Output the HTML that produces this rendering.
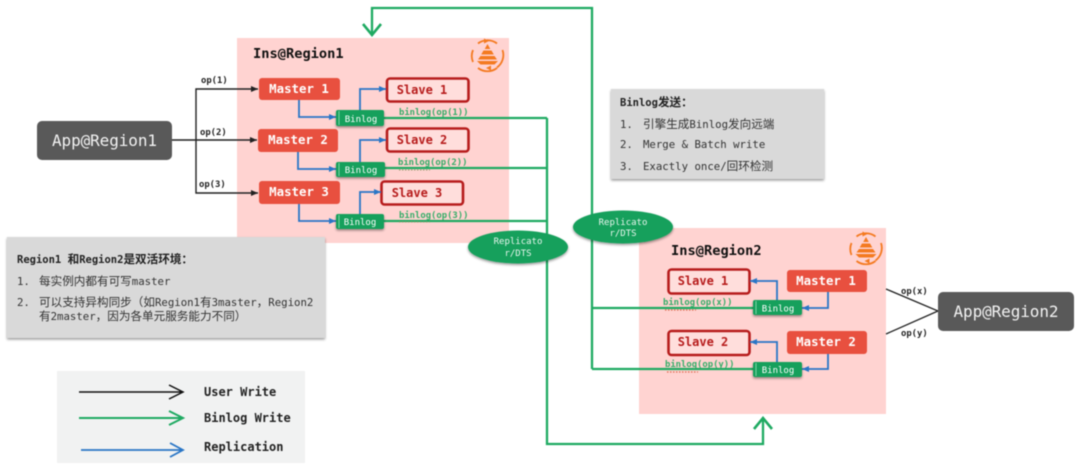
<!DOCTYPE html>
<html><head><meta charset="utf-8">
<style>
html,body{margin:0;padding:0;background:#fff;width:1080px;height:471px;overflow:hidden}
svg{display:block;filter:blur(.5px)}
text{font-family:"DejaVu Sans Mono","Liberation Mono","Noto Sans CJK SC",monospace}
.m{font-size:12.4px;font-weight:bold;fill:#fff;text-anchor:middle}
.s{font-size:12px;font-weight:bold;fill:#b71c1c;text-anchor:middle}
.b{font-size:9px;fill:#fff;text-anchor:middle}
.bl{font-size:8.9px;font-weight:bold;fill:#35ad68}
.op{font-size:8.9px;font-weight:bold;fill:#222}
.t{font-size:13.7px;font-weight:bold;fill:#111}
.g{font-size:10.7px;fill:#333}
.gb{font-size:10.5px;fill:#222;font-weight:bold}
.c{font-size:11.6px}
.lg{font-size:12px;font-weight:bold;fill:#222}
.r{font-size:9px;fill:#e8f6ee;text-anchor:middle}
.k{fill:none;stroke:#222;stroke-width:1.4}
.bu{fill:none;stroke:#2a76c6;stroke-width:1.8}
.gr{fill:none;stroke:#1faa62;stroke-width:2.3}
.sl{fill:#ffdedc;stroke:#b71c1c;stroke-width:2.6}
</style></head><body>
<svg width="1080" height="471" viewBox="0 0 1080 471" xmlns="http://www.w3.org/2000/svg">
<defs>
<marker id="ak" markerUnits="userSpaceOnUse" markerWidth="8" markerHeight="8" refX="7" refY="4" orient="auto"><path d="M0 1L7 4L0 7z" fill="#222"/></marker>
<marker id="ab" markerUnits="userSpaceOnUse" markerWidth="8" markerHeight="8" refX="7" refY="4" orient="auto"><path d="M0 1L7 4L0 7z" fill="#2a76c6"/></marker>
<filter id="sh" x="-5%" y="-5%" width="110%" height="120%"><feDropShadow dx="0" dy="1.500" stdDeviation="1.200" flood-color="#000" flood-opacity=".4"/></filter>
</defs>

<!-- Regions -->
<rect x="237" y="38" width="272" height="205" fill="#ffd3d1"/>
<rect x="639" y="228" width="247" height="186" fill="#ffd3d1"/>

<!-- Green lines -->
<path class="gr" d="M384 118H547M385 168H547M384 221H547M547 118V444H763V418"/>
<path class="gr" d="M753 308H592M753 369H592M592 369V8H372V35"/>
<path class="gr" style="stroke-width:2.6" d="M363 24L372 35L381 24"/>
<path class="gr" style="stroke-width:2.6" d="M754 429L763 418L772 429"/>

<!-- App 1 -->
<rect x="37" y="121" width="135" height="39" rx="5" fill="#595959"/>
<text x="104.500" y="146" font-size="16" fill="#f2f2f2" text-anchor="middle" textLength="105">App@Region1</text>

<!-- User write arrows -->
<path class="k" marker-end="url(#ak)" d="M172 140H196V89H258"/>
<path class="k" marker-end="url(#ak)" d="M196 140H257"/>
<path class="k" marker-end="url(#ak)" d="M196 140V193H258"/>
<text class="op" x="201" y="83">op(1)</text>
<text class="op" x="200" y="135">op(2)</text>
<text class="op" x="199" y="187">op(3)</text>

<!-- Region 1 -->
<text class="t" x="253" y="58">Ins@Region1</text>
<g id="icon1">
<path d="M478 43.500A15.500 15.500 0 0 1 497 43.500M502.500 50A15.500 15.500 0 0 1 497 67.500M497 68A15.500 15.500 0 0 1 478 68M473 62A15.500 15.500 0 0 1 473 50" fill="none" stroke="#f47a20" stroke-width="1.800"/>
<path d="M487.500 44l2.800 5h-5.600zM483.500 50.500h8l2.300 4h-12.600zM480.500 56h14l2.500 3.500h-19zM477 61h21l-3.500 3.500h-14z" fill="#f47a20"/>
<path d="M484 38.500l5 2.500-5 2.500zM491 65.500l-5 2.500 5 2.500z" fill="#f47a20"/>
</g>

<rect x="259" y="78" width="81" height="22" rx="3" fill="#e8503f"/>
<text class="m" x="299" y="93">Master 1</text>
<rect x="258" y="129" width="80" height="23" rx="3" fill="#e8503f"/>
<text class="m" x="298" y="144">Master 2</text>
<rect x="259" y="181" width="81" height="23" rx="3" fill="#e8503f"/>
<text class="m" x="299" y="196">Master 3</text>

<rect class="sl" x="387" y="78.500" width="81.500" height="23" rx="3"/>
<text class="s" x="422" y="94">Slave 1</text>
<rect class="sl" x="387" y="128.500" width="81.500" height="23" rx="3"/>
<text class="s" x="422" y="144">Slave 2</text>
<rect class="sl" x="381.500" y="181.500" width="81.500" height="23" rx="3"/>
<text class="s" x="417" y="197">Slave 3</text>

<!-- Replication region 1 -->
<path class="bu" marker-end="url(#ab)" d="M299 100V117H336"/>
<path class="bu" marker-end="url(#ab)" d="M360 110V89H386"/>
<path class="bu" marker-end="url(#ab)" d="M298 152V169H336"/>
<path class="bu" marker-end="url(#ab)" d="M360 162V140H386"/>
<path class="bu" marker-end="url(#ab)" d="M299 204V221H336"/>
<path class="bu" marker-end="url(#ab)" d="M360 214V192H381"/>

<g filter="url(#sh)">
<rect x="336" y="110" width="48" height="16" rx="2" fill="#16a05c"/>
<rect x="336" y="162" width="49" height="15" rx="2" fill="#16a05c"/>
<rect x="336" y="214" width="48" height="15" rx="2" fill="#16a05c"/>
</g>
<path d="M339 111V125M339 163V176M339 215V228" stroke="#7fd6a6" stroke-width="1"/>
<text class="b" x="361" y="122">Binlog</text>
<text class="b" x="361" y="173">Binlog</text>
<text class="b" x="360" y="225">Binlog</text>
<text class="bl" x="399" y="115">binlog(op(1))</text>
<text class="bl" x="398" y="165">binlog(op(2))</text>
<text class="bl" x="399" y="218">binlog(op(3))</text>
<path d="M399 170H430M399 222H430" stroke="#9a9a70" stroke-width="1" stroke-dasharray="1.500 1.500"/>

<!-- Replicators -->
<ellipse cx="518" cy="247" rx="50" ry="16.500" fill="#16a05c" filter="url(#sh)"/>
<text class="r" x="518" y="244">Replicato</text>
<text class="r" x="518" y="256">r/DTS</text>
<ellipse cx="623" cy="227" rx="50" ry="16.500" fill="#16a05c" filter="url(#sh)"/>
<text class="r" x="623" y="225">Replicato</text>
<text class="r" x="623" y="236">r/DTS</text>

<!-- Region 2 -->
<text class="t" x="671" y="255">Ins@Region2</text>
<use href="#icon1" x="378.500" y="193"/>

<rect class="sl" x="668.500" y="269.500" width="81" height="24" rx="3"/>
<text class="s" x="703" y="285">Slave 1</text>
<rect class="sl" x="668.500" y="331" width="81" height="24" rx="3"/>
<text class="s" x="703" y="346">Slave 2</text>
<rect x="787" y="270" width="80" height="22" rx="3" fill="#e8503f"/>
<text class="m" x="826" y="285">Master 1</text>
<rect x="787" y="331" width="80" height="23" rx="3" fill="#e8503f"/>
<text class="m" x="826" y="346">Master 2</text>

<path class="bu" marker-end="url(#ab)" d="M828 292V308H802"/>
<path class="bu" marker-end="url(#ab)" d="M777 300V281H750"/>
<path class="bu" marker-end="url(#ab)" d="M828 354V369H802"/>
<path class="bu" marker-end="url(#ab)" d="M777 362V342H750"/>

<g filter="url(#sh)">
<rect x="753" y="300" width="49" height="15" rx="2" fill="#16a05c"/>
<rect x="753" y="362" width="49" height="15" rx="2" fill="#16a05c"/>
</g>
<path d="M756 301V314M756 363V376" stroke="#7fd6a6" stroke-width="1"/>
<text class="b" x="778" y="311.500">Binlog</text>
<text class="b" x="778" y="373">Binlog</text>
<text class="bl" x="663" y="305">binlog(op(x))</text>
<text class="bl" x="665" y="367">binlog(op(y))</text>
<path d="M665 310H696M667 372H698" stroke="#e06a50" stroke-width="1.200" stroke-dasharray="1.500 1.500"/>

<!-- App 2 -->
<path d="M886 289L938 311L886 334" fill="none" stroke="#222" stroke-width="1.300"/>
<rect x="938" y="292" width="136" height="39" rx="5" fill="#595959"/>
<text x="1006" y="317" font-size="16" fill="#f2f2f2" text-anchor="middle" textLength="105">App@Region2</text>
<text class="op" x="901" y="294">op(x)</text>
<text class="op" x="901" y="336">op(y)</text>

<!-- Gray box: Binlog -->
<rect x="611" y="89" width="213" height="90" fill="#d9d9d9" filter="url(#sh)"/>
<text class="gb" x="620" y="106">Binlog<tspan class="c">发送：</tspan></text>
<text class="g" x="620" y="128">1.</text><text class="g" x="643" y="128"><tspan class="c">引擎生成</tspan>Binlog<tspan class="c">发向远端</tspan></text>
<text class="g" x="620" y="148">2.</text><text class="g" x="643" y="148">Merge &amp; Batch write</text>
<text class="g" x="620" y="170">3.</text><text class="g" x="643" y="170">Exactly once/<tspan class="c">回环检测</tspan></text>

<!-- Gray box: Regions -->
<rect x="7" y="237" width="318" height="101" fill="#d9d9d9" filter="url(#sh)"/>
<text class="gb" x="17" y="263">Region1 <tspan class="c">和</tspan>Region2<tspan class="c">是双活环境：</tspan></text>
<text class="g" x="17" y="285">1.</text><text class="g" x="39" y="285"><tspan class="c">每实例内都有可写</tspan>master</text>
<text class="g" x="17" y="306">2.</text><text class="g" x="39" y="306"><tspan class="c">可以支持异构同步（如</tspan>Region1<tspan class="c">有</tspan>3master<tspan class="c">，</tspan>Region2</text>
<text class="g" x="39" y="320"><tspan class="c">有</tspan>2master<tspan class="c">，因为各单元服务能力不同）</tspan></text>

<!-- Legend -->
<rect x="57" y="371" width="248" height="92" fill="#f1f2f2"/>
<path d="M79 392H182M169 385L183 392L169 399" fill="none" stroke="#111" stroke-width="1.500"/>
<path d="M79 418H182M169 411L183 418L169 425" fill="none" stroke="#1faa62" stroke-width="2"/>
<path d="M81 450H183M170 443L183 450L170 457" fill="none" stroke="#2a76c6" stroke-width="1.800"/>
<text class="lg" x="204" y="396">User Write</text>
<text class="lg" x="204" y="422">Binlog Write</text>
<text class="lg" x="204" y="451">Replication</text>
</svg>
</body></html>
